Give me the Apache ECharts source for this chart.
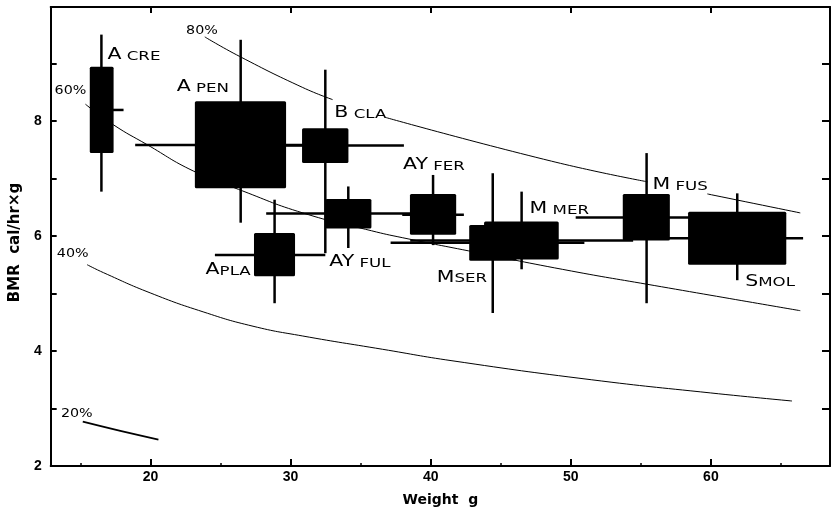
<!DOCTYPE html>
<html><head><meta charset="utf-8">
<script src="https://cdn.jsdelivr.net/npm/echarts@6/dist/echarts.min.js"></script>
<style>html,body{margin:0;padding:0;background:#fff}#c{width:831px;height:512px}</style>
</head><body><div id="c"></div>
<script>
// ---- data ----
const labelHead = ['A','A','B','A','AY','AY','M','M','M','S'];
const labelTail = [' CRE',' PEN',' CLA','PLA',' FUL',' FER','SER',' MER',' FUS','MOL'];

const weightMean   = [16.50, 26.44, 32.48, 28.86, 34.12, 40.17, 44.43, 46.49, 55.41, 61.88];
const weightBoxLo  = [15.67, 23.17, 30.82, 27.39, 32.48, 38.52, 42.75, 43.81, 53.71, 58.37];
const weightBoxHi  = [17.37, 29.68, 34.13, 30.32, 35.77, 41.82, 46.12, 49.14, 57.07, 65.38];
const weightLineLo = [15.90, 18.91, 26.86, 24.60, 28.26, 37.97, 37.14, 38.54, 50.35, 54.30];
const weightLineHi = [18.08, 33.96, 38.09, 32.48, 39.99, 42.37, 50.97, 54.45, 60.41, 66.58];

const bmrMean   = [8.19, 7.58, 7.57, 5.67, 6.39, 6.37, 5.88, 5.92, 6.32, 5.96];
const bmrBoxLo  = [7.44, 6.83, 7.27, 5.30, 6.13, 6.02, 5.57, 5.59, 5.92, 5.50];
const bmrBoxHi  = [8.94, 8.34, 7.87, 6.05, 6.64, 6.73, 6.19, 6.25, 6.73, 6.42];
const bmrLineLo = [6.77, 6.23, 5.70, 4.83, 5.79, 5.84, 4.66, 5.42, 4.83, 5.23];
const bmrLineHi = [9.50, 9.41, 8.89, 6.63, 6.86, 7.06, 7.09, 6.77, 7.44, 6.74];

// percentage curves (null = gap in the drawn line)
const curve80 = [[23.88,9.46],[26.37,9.12],[30.87,8.58],[33.00,8.37],null,[36.78,8.06],[48.62,7.30],[55.49,6.94],null,[59.75,6.73],[66.38,6.40]];
const curve60 = [[15.36,8.29],[17.37,7.93],[19.74,7.59],[23.05,7.13],[26.60,6.78],[30.87,6.40],[35.77,6.09],[37.97,5.97],[42.71,5.74],[50.04,5.39],[55.44,5.16],[66.38,4.70]];
const curve40 = [[15.48,5.50],[16.66,5.36],[19.98,5.01],[23.76,4.68],[27.32,4.43],[30.87,4.26],[36.55,4.03],[41.52,3.83],[51.46,3.50],[59.99,3.27],[65.79,3.13]];
const curve20 = [[15.17,2.77],[17.85,2.61],[20.57,2.46]];

const pctLabels = ['80%','60%','40%','20%'];
const pctLabelX = [22.54, 13.16, 13.32, 13.61];
const pctLabelY = [9.50, 8.46, 5.63, 2.84];

const xTickLabels = [20,30,40,50,60];
const xMinorTicks = [15,25,35,45,55,65];
const yTickLabels = [2,4,6,8];
const yTicks = [3,4,5,6,7,8,9];

// ---- styling / layout (not data) ----
const labelDx = [6, -64, 9, -69, -19, -30, -56, 8, 6, 8];
const labelDy = [-50, -53, -27.5, 20, 53, -44.5, 39.5, -26.5, -28, 48];
const FONT = 'DejaVu Sans';

function splitSegments(pts){
  const segs=[]; let cur=[];
  pts.forEach(p=>{ if(p===null){ if(cur.length) segs.push(cur); cur=[]; } else cur.push(p); });
  if(cur.length) segs.push(cur);
  return segs;
}

const curveSeries = [];
[[curve80,1],[curve60,1],[curve40,1],[curve20,1.8]].forEach(([c,w])=>{
  splitSegments(c).forEach(seg=>{
    curveSeries.push({type:'line', data:seg, smooth:0.5, symbol:'none', silent:true, z:1,
      lineStyle:{color:'#000', width:w}});
  });
});

const speciesData = weightMean.map((w,i)=>[w, bmrMean[i], weightBoxLo[i], weightBoxHi[i], bmrBoxLo[i], bmrBoxHi[i],
  weightLineLo[i], weightLineHi[i], bmrLineLo[i], bmrLineHi[i]]);

const speciesSeries = {
  type:'custom', z:3, silent:true,
  data: speciesData,
  encode:{x:[0,2,3,6,7], y:[1,4,5,8,9]},
  renderItem(params, api){
    const i = params.dataIndex;
    const c = api.coord([api.value(0), api.value(1)]);
    const tl = api.coord([api.value(2), api.value(5)]);
    const br = api.coord([api.value(3), api.value(4)]);
    const hl = api.coord([api.value(6), api.value(1)]);
    const hr = api.coord([api.value(7), api.value(1)]);
    const vt = api.coord([api.value(0), api.value(9)]);
    const vb = api.coord([api.value(0), api.value(8)]);
    return {type:'group', children:[
      {type:'line', shape:{x1:hl[0],y1:hl[1],x2:hr[0],y2:hr[1]}, style:{stroke:'#000', lineWidth:2.5}},
      {type:'line', shape:{x1:vt[0],y1:vt[1],x2:vb[0],y2:vb[1]}, style:{stroke:'#000', lineWidth:2.5}},
      {type:'rect', shape:{x:tl[0], y:tl[1], width:br[0]-tl[0], height:br[1]-tl[1], r:1.5}, style:{fill:'#000'}},
      {type:'text', x:c[0]+labelDx[i], y:c[1]+labelDy[i]+3.2, scaleX:1.28,
        style:{text:'{h|'+labelHead[i]+'}{t|'+labelTail[i]+'}', align:'left', verticalAlign:'bottom',
          rich:{
            h:{fontSize:16, lineHeight:16, fontFamily:FONT, fill:'#000', verticalAlign:'bottom'},
            t:{fontSize:13, lineHeight:13, fontFamily:FONT, fill:'#000', verticalAlign:'bottom'}
          }}}
    ]};
  }
};

const pctSeries = {
  type:'custom', z:3, silent:true,
  data: pctLabelX.map((x,i)=>[x, pctLabelY[i]]),
  renderItem(params, api){
    const i = params.dataIndex;
    const p = api.coord([api.value(0), api.value(1)]);
    return {type:'text', x:p[0], y:p[1]+2.6, scaleX:1.1,
      style:{text:pctLabels[i], fontSize:13, fontFamily:FONT, fill:'#000', align:'left', verticalAlign:'bottom'}};
  }
};

const XMIN=12.88, XMAX=68.5, YMIN=2, YMAX=9.98;
const axisLineStyle = {color:'#000', width:2};
const chart = echarts.init(document.getElementById('c'), null, {renderer:'canvas'});
chart.setOption({
  animation:false,
  backgroundColor:'#fff',
  grid:{left:47, right:1, top:7, bottom:45.5},
  xAxis:[
    {type:'value', min:XMIN, max:XMAX, position:'bottom',
      axisLine:{show:true, onZero:false, lineStyle:axisLineStyle},
      axisTick:{show:true, inside:true, length:7, customValues:xTickLabels, lineStyle:{color:'#000', width:2}},
      axisLabel:{show:true, customValues:xTickLabels, margin:4, color:'#000', fontSize:14, fontWeight:'bold', fontFamily:'Liberation Sans'},
      splitLine:{show:false},
      name:'Weight  g', nameLocation:'middle', nameGap:27,
      nameTextStyle:{color:'#000', fontSize:14, fontWeight:'bold', fontFamily:FONT}},
    {type:'value', min:XMIN, max:XMAX, position:'bottom',
      axisLine:{show:false},
      axisTick:{show:true, inside:true, length:3, customValues:xMinorTicks, lineStyle:{color:'#000', width:1.5}},
      axisLabel:{show:false}, splitLine:{show:false}},
    {type:'value', min:XMIN, max:XMAX, position:'top',
      axisLine:{show:true, onZero:false, lineStyle:axisLineStyle},
      axisTick:{show:true, inside:true, length:6, customValues:xTickLabels, lineStyle:{color:'#000', width:2}},
      axisLabel:{show:false}, splitLine:{show:false}}
  ],
  yAxis:[
    {type:'value', min:YMIN, max:YMAX, position:'left',
      axisLine:{show:true, onZero:false, lineStyle:axisLineStyle},
      axisTick:{show:true, inside:true, length:6, customValues:yTicks, lineStyle:{color:'#000', width:2}},
      axisLabel:{show:true, customValues:yTickLabels, margin:9, color:'#000', fontSize:14, fontWeight:'bold', fontFamily:'Liberation Sans'},
      splitLine:{show:false},
      name:'BMR  cal/hr×g', nameLocation:'middle', nameGap:22,
      nameTextStyle:{color:'#000', fontSize:15, fontWeight:'bold', fontFamily:FONT, padding:[0,12,0,0]}},
    {type:'value', min:YMIN, max:YMAX, position:'right',
      axisLine:{show:true, onZero:false, lineStyle:axisLineStyle},
      axisTick:{show:true, inside:true, length:8, customValues:yTicks, lineStyle:{color:'#000', width:2}},
      axisLabel:{show:false}, splitLine:{show:false}}
  ],
  series:[...curveSeries, speciesSeries, pctSeries]
});
</script></body></html>
